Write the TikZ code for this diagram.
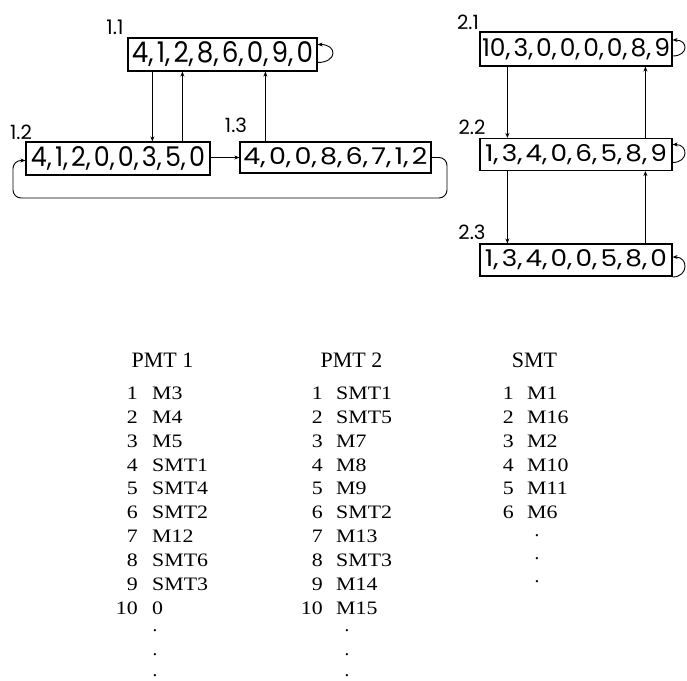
\documentclass[tikz,border=0pt]{standalone}
\usepackage{fontspec}
\usepackage{graphicx}
\setmainfont{Liberation Serif}
\newfontfamily\boxfont{Poppins}
\usetikzlibrary{arrows.meta,calc}
\newcommand\wtx[1]{\scalebox{1.15}[1]{#1}}
\newcommand\bx[3]{\resizebox{#1pt}{#2pt}{\boxfont #3}}
\newcommand\cm{,\kern0.12em}
\newcommand\lb[1]{\resizebox{!}{14.5pt}{\boxfont #1}}
\begin{document}
\begin{tikzpicture}[x=1pt,y=-1pt,
  regbox/.style={draw,line width=1.2pt,inner sep=0pt},
  arr/.style={line width=0.9pt,-{Stealth[length=5pt,width=4pt]}},
  lbl/.style={inner sep=0pt},
  hdr/.style={inner sep=0pt,anchor=base,font=\fontsize{22}{22}\selectfont},
  num/.style={inner sep=0pt,anchor=base east,font=\fontsize{19}{19}\selectfont},
  item/.style={inner sep=0pt,anchor=base west,font=\fontsize{19}{19}\selectfont},
  dotn/.style={inner sep=0pt,font=\fontsize{19}{19}\selectfont}]
\useasboundingbox (0,0) rectangle (687,680);

% boxes
\node[regbox,minimum width=189pt,minimum height=33pt] (b11) at (222.5,54.5) {\bx{181}{21}{4\cm1\cm2\cm8\cm6\cm0\cm9\cm0}};
\node[regbox,minimum width=184pt,minimum height=33pt] (b12) at (118,158.5) {\bx{174}{20}{4\cm1\cm2\cm0\cm0\cm3\cm5\cm0}};
\node[regbox,minimum width=191pt,minimum height=31pt] (b13) at (335.5,157.5) {\bx{184}{17}{4\cm0\cm0\cm8\cm6\cm7\cm1\cm2}};
\node[regbox,minimum width=192pt,minimum height=34pt] (b21) at (576,49) {\bx{188}{18}{10\cm3\cm0\cm0\cm0\cm0\cm8\cm9}};
\node[regbox,minimum width=192pt,minimum height=32pt] (b22) at (576,154.5) {\bx{182}{17}{1\cm3\cm4\cm0\cm6\cm5\cm8\cm9}};
\node[regbox,minimum width=192pt,minimum height=32pt] (b23) at (576,260) {\bx{182}{17}{1\cm3\cm4\cm0\cm0\cm5\cm8\cm0}};

% labels
\node[lbl] (l11) at (115,27) {\lb{1.1}};
\node[lbl] (l12) at (21,132) {\lb{1.2}};
\node[lbl] (l13) at (236,125) {\lb{1.3}};
\node[lbl] (l21) at (468,22) {\lb{2.1}};
\node[lbl] (l22) at (472,127) {\lb{2.2}};
\node[lbl] (l23) at (472,232) {\lb{2.3}};

% self loops
\draw[arr] ([yshift=-8pt]b11.east) .. controls +(20,0) and +(20,0) .. ([yshift=10pt]b11.east);
\draw[arr] ([yshift=-7pt]b21.east) .. controls +(16,0) and +(16,0) .. ([yshift=9pt]b21.east);
\draw[arr] ([yshift=-8pt]b22.east) .. controls +(16,0) and +(16,0) .. ([yshift=10pt]b22.east);
\draw[arr] ([yshift=-17pt]b23.east) .. controls +(16,0) and +(16,0) .. ([yshift=3pt]b23.east);

% group 1 arrows
\draw[arr] ([xshift=25pt]b11.south west) -- ([xshift=25pt]b11.south west |- b12.north);
\draw[arr] ([xshift=55pt]b11.south west |- b12.north) -- ([xshift=55pt]b11.south west);
\draw[arr] ([xshift=138pt]b11.south west |- b13.north) -- ([xshift=138pt]b11.south west);
\draw[arr] (b12.east |- b13.west) -- (b13.west);
\coordinate (lp1) at (447,198);
\coordinate (lp2) at (13,198);
\draw[arr,rounded corners=8pt] (b13.east) -- (b13.east -| lp1) -- (lp1) -- (lp2) -- ([yshift=-2pt]b12.west -| lp2) -- ([yshift=-2pt]b12.west);

% group 2 arrows
\draw[arr] ([xshift=28pt]b21.south west) -- ([xshift=28pt]b21.south west |- b22.north);
\draw[arr] ([xshift=28pt]b22.south west) -- ([xshift=28pt]b22.south west |- b23.north);
\draw[arr] ([xshift=166pt]b22.south west |- b23.north) -- ([xshift=166pt]b22.south west);
\draw[arr] ([xshift=166pt]b21.south west |- b22.north) -- ([xshift=166pt]b21.south west);

% tables
\node[hdr] (h1) at (162.5,367.3) {PMT 1};
\node[hdr] (h2) at (351.5,367.3) {PMT 2};
\node[hdr] (h3) at (534.5,367.3) {SMT};

\foreach \n/\t [count=\i from 0] in {1/M3,2/M4,3/M5,4/SMT1,5/SMT4,6/SMT2,7/M12,8/SMT6,9/SMT3,10/0} {
  \node[num] (pa\n) at (138,399.5+23.87*\i) {\wtx{\n}};
  \node[item] (pb\n) at (152,399.5+23.87*\i) {\wtx{\t}};
}
\foreach \n/\t [count=\i from 0] in {1/SMT1,2/SMT5,3/M7,4/M8,5/M9,6/SMT2,7/M13,8/SMT3,9/M14,10/M15} {
  \node[num] (qa\n) at (323,399.5+23.87*\i) {\wtx{\n}};
  \node[item] (qb\n) at (336,399.5+23.87*\i) {\wtx{\t}};
}
\foreach \n/\t [count=\i from 0] in {1/M1,2/M16,3/M2,4/M10,5/M11,6/M6} {
  \node[num] (sa\n) at (514,399.5+23.87*\i) {\wtx{\n}};
  \node[item] (sb\n) at (527,399.5+23.87*\i) {\wtx{\t}};
}
\foreach \y [count=\k] in {631,655,676} {
  \node[dotn] (pd\k) at (155,\y) {.};
  \node[dotn] (qd\k) at (347,\y) {.};
}
\foreach \y [count=\k] in {536,559,582} {
  \node[dotn] (sd\k) at (537,\y) {.};
}
\end{tikzpicture}
\end{document}
